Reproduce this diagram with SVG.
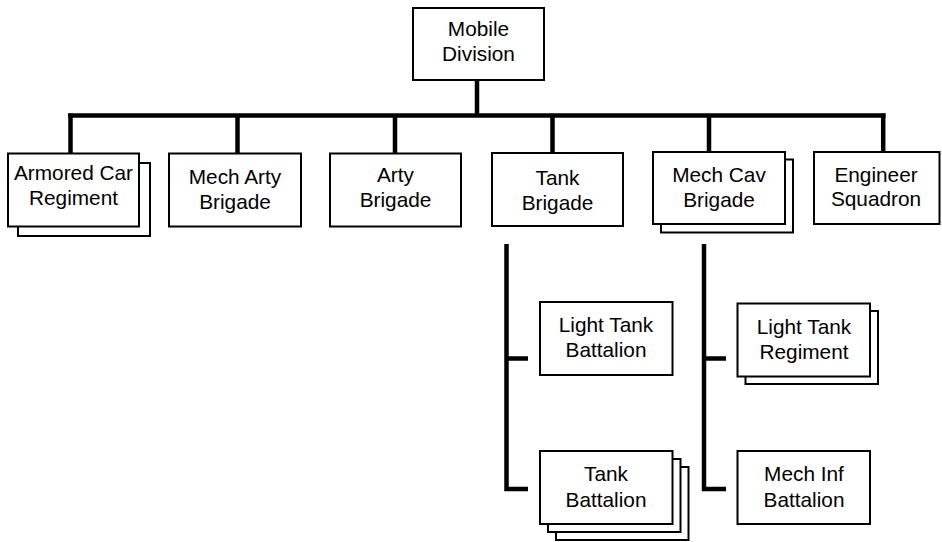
<svg xmlns="http://www.w3.org/2000/svg" width="942" height="542" viewBox="0 0 942 542">
<style>
.box{fill:#fff;stroke:#000;stroke-width:2}
.ln{fill:none;stroke:#000;stroke-width:4.5;stroke-linecap:butt;stroke-linejoin:miter}
text{font-family:"Liberation Sans",Arial,Helvetica,sans-serif;font-size:20.8px;fill:#000;text-anchor:middle}
</style>
<rect width="942" height="542" fill="#fff"/>
<g id="connectors">
<line class="ln" x1="477" y1="80" x2="477" y2="116"/>
<line class="ln" x1="68.2" y1="115.5" x2="885.5" y2="115.5"/>
<line class="ln" x1="70.5" y1="113.5" x2="70.5" y2="153"/>
<line class="ln" x1="237.5" y1="115" x2="237.5" y2="153"/>
<line class="ln" x1="395" y1="115" x2="395" y2="153"/>
<line class="ln" x1="552.5" y1="115" x2="552.5" y2="153"/>
<line class="ln" x1="709" y1="115" x2="709" y2="152"/>
<line class="ln" x1="883.2" y1="113.5" x2="883.2" y2="152"/>
<path class="ln" d="M506.5 244 V489 H528"/>
<line class="ln" x1="506.5" y1="358.5" x2="528" y2="358.5"/>
<path class="ln" d="M704 244 V489 H726"/>
<line class="ln" x1="704" y1="358.5" x2="726" y2="358.5"/>
</g>
<g id="mobile-division">
<rect class="box" x="413" y="8" width="131" height="72"/>
<text x="478.5" y="36">Mobile</text>
<text x="478.5" y="61">Division</text>
</g>
<g id="armored-car-regiment">
<rect class="box" x="18" y="163" width="132" height="73"/>
<rect class="box" x="8" y="153.5" width="131" height="73"/>
<text x="73.5" y="180">Armored Car</text>
<text x="73.5" y="205">Regiment</text>
</g>
<g id="mech-arty-brigade">
<rect class="box" x="169" y="153.5" width="132" height="73"/>
<text x="235" y="184">Mech Arty</text>
<text x="235" y="209">Brigade</text>
</g>
<g id="arty-brigade">
<rect class="box" x="330" y="153.5" width="131" height="73"/>
<text x="395.5" y="182">Arty</text>
<text x="395.5" y="207">Brigade</text>
</g>
<g id="tank-brigade">
<rect class="box" x="492" y="153" width="131" height="73"/>
<text x="557.5" y="185">Tank</text>
<text x="557.5" y="210">Brigade</text>
</g>
<g id="mech-cav-brigade">
<rect class="box" x="661" y="159.5" width="132" height="73"/>
<rect class="box" x="653" y="152" width="132" height="72"/>
<text x="719" y="182">Mech Cav</text>
<text x="719" y="207">Brigade</text>
</g>
<g id="engineer-squadron">
<rect class="box" x="814" y="152" width="125.5" height="72"/>
<text x="876" y="182">Engineer</text>
<text x="876" y="206">Squadron</text>
</g>
<g id="light-tank-battalion">
<rect class="box" x="540" y="302" width="132.5" height="73"/>
<text x="606" y="332">Light Tank</text>
<text x="606" y="357">Battalion</text>
</g>
<g id="tank-battalion">
<rect class="box" x="556" y="467" width="132.5" height="73"/>
<rect class="box" x="548" y="459" width="132.5" height="73"/>
<rect class="box" x="540" y="451" width="132.5" height="73"/>
<text x="606" y="481">Tank</text>
<text x="606" y="507">Battalion</text>
</g>
<g id="light-tank-regiment">
<rect class="box" x="745.5" y="311" width="132.5" height="73"/>
<rect class="box" x="737.5" y="303.5" width="132.5" height="73"/>
<text x="804" y="334">Light Tank</text>
<text x="804" y="359">Regiment</text>
</g>
<g id="mech-inf-battalion">
<rect class="box" x="737.5" y="451" width="132.5" height="73"/>
<text x="804" y="481">Mech Inf</text>
<text x="804" y="507">Battalion</text>
</g>
</svg>
